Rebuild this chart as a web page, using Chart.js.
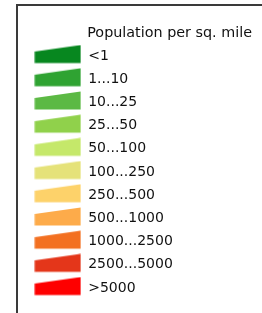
<!DOCTYPE html>
<html>
<head>
<meta charset="utf-8">
<script src="https://cdn.jsdelivr.net/npm/chart.js@4/dist/chart.umd.min.js"></script>
<style>
  html, body { margin: 0; padding: 0; background: #ffffff; }
  #wrap { position: relative; width: 262px; height: 313px; overflow: hidden; }
  #frame { position: absolute; left: 16px; top: 4px; width: 300px; height: 400px;
           border-left: 2px solid #3a3a3a; border-top: 2px solid #3a3a3a; box-sizing: border-box; }
  #c { position: absolute; left: 0; top: 0; }
</style>
</head>
<body>
<div id="wrap">
  <div id="frame"></div>
  <canvas id="c" width="262" height="313"></canvas>
</div>
<script>
const legendTitle = 'Population per sq. mile';
const categories = ['<1', '1...10', '10...25', '25...50', '50...100', '100...250',
                    '250...500', '500...1000', '1000...2500', '2500...5000', '>5000'];
const classColors = ['#07871f', '#2fa332', '#5cb944', '#90d14b', '#c5e86a', '#e5e279',
                     '#fdd26a', '#fdab4a', '#f37021', '#e4361a', '#fe0000'];

function swatch(color) {
  const w = 47, h = 19, extra = 4;
  const cv = document.createElement('canvas');
  cv.width = w; cv.height = h + extra;
  const g = cv.getContext('2d');
  g.fillStyle = color;
  g.beginPath();
  g.moveTo(0.5, h - 0.5);
  g.lineTo(0.5, 7);
  g.lineTo(w - 0.5, 0.5);
  g.lineTo(w - 0.5, h - 0.5);
  g.closePath();
  g.fill();
  return cv;
}

const FONT = 'DejaVu Sans, Verdana, sans-serif';
const TEXT = '#111111';

new Chart(document.getElementById('c'), {
  type: 'bar',
  data: {
    labels: [''],
    datasets: categories.map((c, i) => ({
      label: c,
      data: [],
      backgroundColor: classColors[i],
      pointStyle: swatch(classColors[i])
    }))
  },
  options: {
    responsive: false,
    animation: false,
    devicePixelRatio: 1,
    layout: { padding: { left: 25, right: 10, top: 0, bottom: 0 } },
    scales: { x: { display: false }, y: { display: false } },
    plugins: {
      tooltip: { enabled: false },
      title: {
        display: true,
        text: legendTitle,
        align: 'end',
        color: TEXT,
        font: { family: FONT, size: 14.35, weight: 'normal', lineHeight: 1 },
        padding: { top: 26, bottom: -0.5 }
      },
      legend: {
        position: 'left',
        align: 'start',
        fullSize: false,
        maxWidth: 230,
        labels: {
          usePointStyle: true,
          pointStyleWidth: 47,
          padding: 9.2,
          color: TEXT,
          font: { family: FONT, size: 14, weight: 'normal' }
        }
      }
    }
  }
});
</script>
</body>
</html>
